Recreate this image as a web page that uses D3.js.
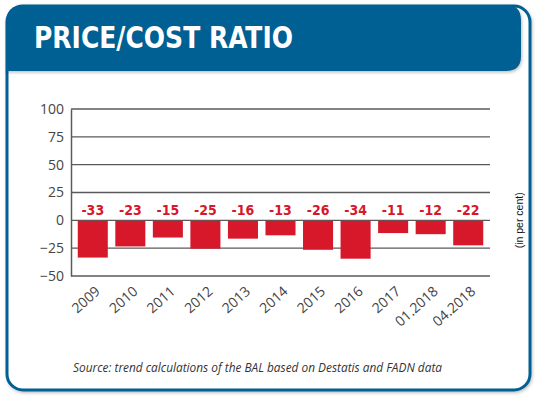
<!DOCTYPE html>
<html>
<head>
<meta charset="utf-8">
<script src="https://cdn.jsdelivr.net/npm/d3@7"></script>
<style>
  body { margin: 0; background: #fff; }
  svg { display: block; }
</style>
</head>
<body>
<svg width="539" height="403"></svg>
<script>
// values
const periods = ["2009", "2010", "2011", "2012", "2013", "2014", "2015", "2016", "2017", "01.2018", "04.2018"];
const ratios = [-33, -23, -15, -25, -16, -13, -26, -34, -11, -12, -22];
const yTicks = [-50, -25, 0, 25, 50, 75, 100];

const blue = "#005e93";
const red = "#d7182a";
const narrow = "'Liberation Sans Narrow', 'DejaVu Sans Condensed', sans-serif";

const data = periods.map((p, i) => ({ period: p, value: ratios[i] }));

const svg = d3.select("svg");

const defs = svg.append("defs");
const sh = defs.append("filter").attr("id", "shadow")
    .attr("x", "-5%").attr("y", "-5%").attr("width", "110%").attr("height", "110%");
sh.append("feDropShadow").attr("dx", 1).attr("dy", 1.5).attr("stdDeviation", 1.5)
    .attr("flood-color", "#000").attr("flood-opacity", 0.25);

// outer frame
svg.append("rect")
    .attr("x", 7).attr("y", 6)
    .attr("width", 523).attr("height", 384)
    .attr("rx", 16)
    .attr("fill", "#fff")
    .attr("stroke", blue)
    .attr("stroke-width", 3)
    .attr("filter", "url(#shadow)");

// header band: rounded top-left, top-right, bottom-right
const hx0 = 6, hy0 = 5, hx1 = 521, hy1 = 71, r1 = 18, r2 = 15;
svg.append("path")
    .attr("d", `M${hx0},${hy1} L${hx0},${hy0 + r1} Q${hx0},${hy0} ${hx0 + r1},${hy0}
                L${hx1 - r2},${hy0} Q${hx1},${hy0} ${hx1},${hy0 + r2}
                L${hx1},${hy1 - r2} Q${hx1},${hy1} ${hx1 - r2},${hy1} Z`)
    .attr("fill", blue)
    .attr("filter", "url(#shadow)");

svg.append("text")
    .attr("x", 34).attr("y", 48)
    .attr("fill", "#fff")
    .style("font-family", narrow)
    .style("font-weight", "bold")
    .style("font-size", "30px")
    .attr("textLength", 259)
    .attr("lengthAdjust", "spacingAndGlyphs")
    .text("PRICE/COST RATIO");

// scales
const x = d3.scaleBand()
    .domain(periods)
    .range([71, 490])
    .paddingInner(0.2)
    .paddingOuter(0.18);

const y = d3.scaleLinear()
    .domain([-50, 100])
    .range([276, 109]);

// grid lines
svg.append("g")
    .selectAll("line").data(yTicks)
    .join("line")
    .attr("x1", 71).attr("x2", 490)
    .attr("y1", d => y(d)).attr("y2", d => y(d))
    .attr("stroke", "#5a5a5a")
    .attr("stroke-width", 1.3);

// y axis
const yAxis = svg.append("g")
    .attr("transform", "translate(71,0)")
    .call(d3.axisLeft(y).tickValues(yTicks).tickSize(0).tickPadding(7));
yAxis.select(".domain").attr("stroke", "#5a5a5a").attr("stroke-width", 1.5);
yAxis.selectAll("text")
    .attr("fill", "#444")
    .style("font-family", "'Open Sans', sans-serif")
    .style("font-size", "14px");

// bars
svg.append("g")
    .selectAll("rect").data(data)
    .join("rect")
    .attr("x", d => x(d.period))
    .attr("width", x.bandwidth())
    .attr("y", y(0) + 0.5)
    .attr("height", d => y(d.value) - y(0))
    .attr("fill", red);

// value labels
svg.append("g")
    .selectAll("text").data(data)
    .join("text")
    .attr("x", d => x(d.period) + x.bandwidth() / 2)
    .attr("y", y(0) - 5)
    .attr("text-anchor", "middle")
    .attr("fill", red)
    .style("font-family", narrow)
    .style("font-weight", "bold")
    .style("font-size", "14px")
    .text(d => d.value);

// x labels
const xAxis = svg.append("g")
    .attr("transform", `translate(0,${y(-50)})`)
    .call(d3.axisBottom(x).tickSize(0));
xAxis.select(".domain").remove();
xAxis.selectAll("text")
    .attr("fill", "#444")
    .style("font-family", "'Open Sans', sans-serif")
    .style("font-size", "14px")
    .attr("text-anchor", "end")
    .attr("y", 0)
    .attr("dy", "0.35em")
    .attr("transform", "translate(5,13) rotate(-42)");

// unit
svg.append("text")
    .attr("transform", `translate(523,${y(0)}) rotate(-90)`)
    .attr("text-anchor", "middle")
    .attr("fill", "#111")
    .style("font-family", "'Liberation Sans', sans-serif")
    .style("font-size", "10.5px")
    .text("(in per cent)");

// source
svg.append("text")
    .attr("x", 73).attr("y", 372)
    .attr("fill", "#333")
    .style("font-family", "'Open Sans', sans-serif")
    .style("font-style", "italic")
    .style("font-size", "12px")
    .attr("textLength", 369)
    .attr("lengthAdjust", "spacingAndGlyphs")
    .text("Source: trend calculations of the BAL based on Destatis and FADN data");
</script>
</body>
</html>
